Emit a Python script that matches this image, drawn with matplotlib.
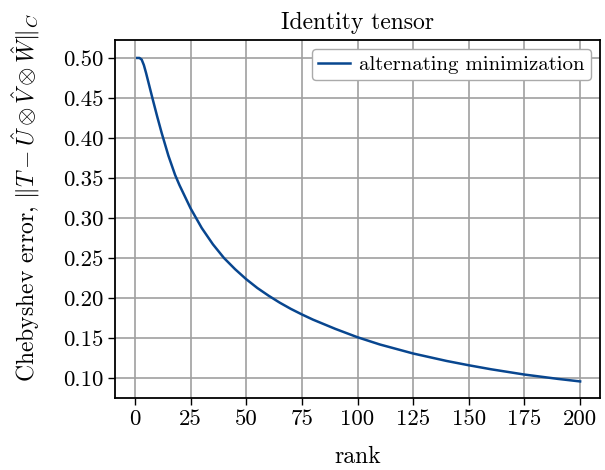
import numpy as np
import matplotlib
matplotlib.use("Agg")
from matplotlib import pyplot as plt

plt.rcParams['font.family'] = 'serif'
plt.rcParams['font.serif'] = ['cmr10']
plt.rcParams['mathtext.fontset'] = 'cm'
plt.rcParams['axes.formatter.use_mathtext'] = True
plt.rcParams['axes.unicode_minus'] = False

# values
rank = [1, 2, 3, 4, 5, 6, 8, 10, 12, 15, 18, 20, 25, 30, 35, 40, 45,
        50, 55, 60, 65, 70, 75, 80, 90, 100, 110, 125, 140, 150, 160, 175,
        190, 200]
err = [0.500, 0.500, 0.498, 0.491, 0.481, 0.470, 0.448, 0.4266, 0.4062,
       0.378, 0.354, 0.341, 0.312, 0.2875, 0.2672, 0.2500, 0.2360, 0.2235,
       0.2125, 0.2030, 0.1943, 0.1865, 0.1795, 0.1730, 0.1615, 0.1510,
       0.1420, 0.1307, 0.1214, 0.1160, 0.1110, 0.1044, 0.0990, 0.0958]

xticks = [0, 25, 50, 75, 100, 125, 150, 175, 200]
yticks = [0.10, 0.15, 0.20, 0.25, 0.30, 0.35, 0.40, 0.45, 0.50]

fig = plt.figure(figsize=(6.05, 4.70), dpi=100)
ax = fig.add_axes([0.190, 0.153, 0.802, 0.762])

ax.plot(rank, err, color='#08468f', lw=1.8, label='alternating minimization',
        solid_joinstyle='round')

ax.set_xticks(xticks)
ax.set_yticks(yticks)
ax.set_xticklabels([str(t) for t in xticks])
ax.set_yticklabels(['%.2f' % t for t in yticks])
ax.set_xlim(-9, 209)
ax.set_ylim(0.075, 0.5225)
ax.tick_params(labelsize=16.5, length=5, width=1)
ax.grid(True, color='#a0a0a0', lw=1.2)
for s in ax.spines.values():
    s.set_linewidth(1.3)

ax.set_title('Identity tensor', fontsize=17, pad=8)
ax.set_xlabel('rank', fontsize=17, labelpad=12)
ax.set_ylabel(r'Chebyshev error, $\|T - \hat{U} \otimes \hat{V} \otimes \hat{W}\|_C$',
              fontsize=17)
ax.yaxis.set_label_coords(-0.15, 0.56)

leg = ax.legend(loc='upper right', fontsize=15, fancybox=True,
                framealpha=1, edgecolor='#aaaaaa', handlelength=1.5,
                handletextpad=0.45, borderpad=0.3, borderaxespad=0.45)

fig.savefig('out.png', dpi=100)
